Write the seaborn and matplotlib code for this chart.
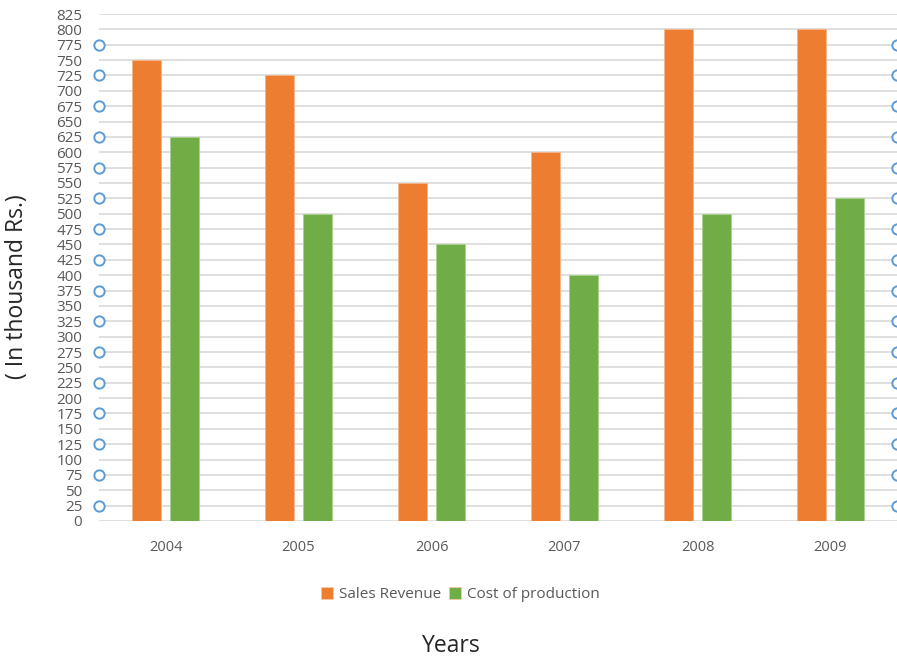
import matplotlib
matplotlib.use("Agg")
import matplotlib.pyplot as plt
import seaborn as sns
import pandas as pd

years = ["2004", "2005", "2006", "2007", "2008", "2009"]
sales_revenue = [750, 725, 550, 600, 800, 800]
cost_of_production = [625, 500, 450, 400, 500, 525]
marker_values = [25, 75, 125, 175, 225, 275, 325, 375, 425, 475, 525, 575, 625, 675, 725, 775]
y_ticks = list(range(0, 826, 25))

df = pd.DataFrame({
    "Year": years * 2,
    "Value": sales_revenue + cost_of_production,
    "Series": ["Sales Revenue"] * len(years) + ["Cost of production"] * len(years),
})

sns.set_theme(style="white")
plt.rcParams['font.family'] = ['Open Sans', 'DejaVu Sans']

fig = plt.figure(figsize=(8.97, 6.58), dpi=100)
ax = fig.add_axes([99/897, 1 - 521/658, 798/897, 507/658])

palette = {"Sales Revenue": "#ED7D31", "Cost of production": "#70AD47"}
sns.barplot(data=df, x="Year", y="Value", hue="Series", palette=palette,
            width=0.58, gap=0.24, ax=ax, edgecolor="#F6C9A8", linewidth=0.6,
            saturation=1, legend=True, zorder=3)
for p, c in zip(ax.patches, ["#F5B58A"] * 6 + ["#A9D18E"] * 6):
    p.set_edgecolor(c)

ax.set_ylim(0, 825)
ax.set_xlim(-0.5, 5.5)
ax.set_yticks(y_ticks)
ax.set_yticklabels([str(v) for v in y_ticks])
ax.yaxis.grid(True, color="#D9D9D9", linewidth=1.2, zorder=0)
ax.set_axisbelow(True)
for s in ax.spines.values():
    s.set_visible(False)
ax.tick_params(axis="y", length=0, pad=12, labelsize=11, labelcolor="#595959")
ax.tick_params(axis="x", length=0, pad=14, labelsize=10.5, labelcolor="#595959")

# circle markers at both edges
for xe in (-0.5, 5.5):
    ax.scatter([xe] * len(marker_values), marker_values, s=55, facecolor="white",
               edgecolor="#5B9BD5", linewidth=1.4, zorder=4, clip_on=False)

ax.set_xlabel("Years", fontsize=16.5, color="#262626")
ax.xaxis.set_label_coords(0.442, -0.222)
ax.set_ylabel("( In thousand Rs.)", fontsize=16.5, color="#262626")
ax.yaxis.set_label_coords(-0.088, 0.4615)

handles, labels = ax.get_legend_handles_labels()
ax.legend(handles, labels, loc="upper center", bbox_to_anchor=(0.453, -0.103),
          ncol=2, frameon=False, fontsize=11, labelcolor="#595959",
          handlelength=0.8, handleheight=0.8, handletextpad=0.4, columnspacing=0.5)

fig.savefig("out.png", dpi=100)
